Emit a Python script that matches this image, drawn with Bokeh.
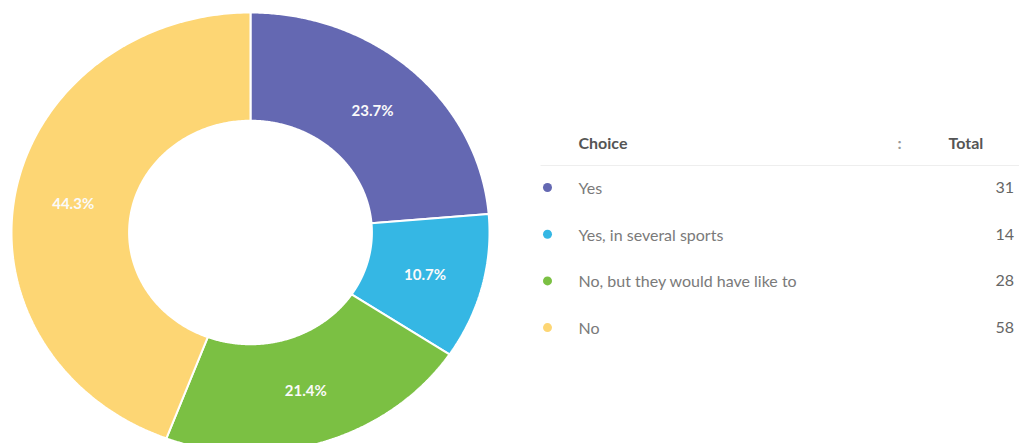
import numpy as np
from bokeh.plotting import figure
from bokeh.models import Range1d
from bokeh.core.properties import value
from bokeh.embed import file_html
from bokeh.resources import INLINE

choices = ["Yes", "Yes, in several sports", "No, but they would have like to", "No"]
totals = [31, 14, 28, 58]
colors = ["#6468b2", "#35b7e4", "#7bc043", "#fdd674"]

W, H = 1019, 443
p = figure(width=W, height=H, output_backend="svg", toolbar_location=None,
           x_range=Range1d(0, W), y_range=Range1d(H, 0),
           min_border=0, outline_line_color=None)
p.axis.visible = False
p.grid.visible = False

# donut geometry (screen-like coords)
cx, cy, rx, ry = 250, 232, 239, 220
inner = 0.508
total = sum(totals)
fr = np.array(totals) / total
ends = np.cumsum(fr)
starts = ends - fr

xs, ys, lx, ly, labs = [], [], [], [], []
for s, e, f in zip(starts, ends, fr):
    t = np.linspace(s, e, 200) * 2 * np.pi
    ox = cx + rx * np.sin(t)
    oy = cy - ry * np.cos(t)
    ix = cx + inner * rx * np.sin(t[::-1])
    iy = cy - inner * ry * np.cos(t[::-1])
    xs.append(np.concatenate([ox, ix]).tolist())
    ys.append(np.concatenate([oy, iy]).tolist())
    m = (s + e) / 2 * 2 * np.pi
    rm = (1 + inner) / 2
    lx.append(cx + rm * rx * np.sin(m))
    ly.append(cy - rm * ry * np.cos(m))
    labs.append(f"{f*100:.1f}%")

p.patches(xs=xs, ys=ys, fill_color=colors, line_color="white", line_width=2)
p.text(x=lx, y=ly, text=labs, text_color="#fafafa", text_font=value("Lato"),
       text_font_size="15px", text_font_style="bold",
       text_align="center", text_baseline="middle")

# table legend
font = value("Lato")
p.text(x=[578], y=[142], text=["Choice"], text_color="#555555", text_font=font,
       text_font_size="16px", text_font_style="bold", text_baseline="middle")
p.text(x=[897], y=[142], text=[":"], text_color="#999999", text_font=font,
       text_font_size="16px", text_font_style="bold", text_baseline="middle")
p.text(x=[948], y=[142], text=["Total"], text_color="#555555", text_font=font,
       text_font_size="16px", text_font_style="bold", text_baseline="middle")
p.segment(x0=[540], y0=[165], x1=[W], y1=[165], line_color="#eeeeee", line_width=1)

ry_rows = [187 + i * 46.7 for i in range(len(choices))]
p.scatter(x=[547] * len(choices), y=ry_rows, size=9, fill_color=colors, line_color=None)
p.text(x=[578] * len(choices), y=ry_rows, text=choices, text_color="#7a7a7a",
       text_font=font, text_font_size="16px", text_baseline="middle")
p.text(x=[995] * len(choices), y=ry_rows, text=[str(t) for t in totals], text_color="#666666",
       text_font=font, text_font_size="16px", text_baseline="middle")

open("out.html", "w").write(file_html(p, INLINE))
